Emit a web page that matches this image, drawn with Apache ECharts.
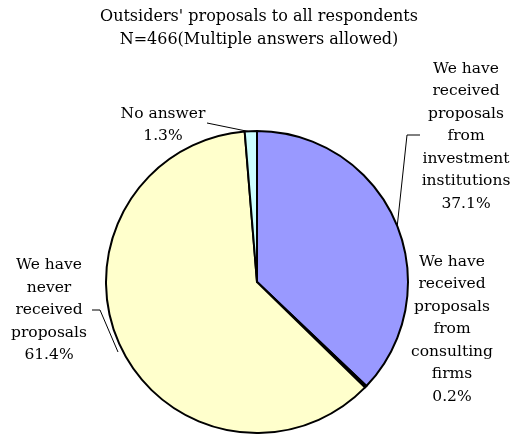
<!DOCTYPE html>
<html>
<head>
	<meta charset="UTF-8">
	<title>Outsiders' proposals</title>
	<script src="https://cdn.jsdelivr.net/npm/echarts@6/dist/echarts.min.js"></script>
	<style>
		html, body { margin: 0; padding: 0; background: #fff; }
		#main { width: 518px; height: 434px; }
	</style>
</head>
<body>
<div id="main"></div>
<script>
	// data
	var names = [
		'We have\nreceived\nproposals\nfrom\ninvestment\ninstitutions',
		'We have\nreceived\nproposals\nfrom\nconsulting\nfirms',
		'We have\nnever\nreceived\nproposals',
		'No answer'
	];
	var values = [37.1, 0.2, 61.4, 1.3];
	var colors = ['#9999FF', '#993366', '#FFFFCC', '#CCFFFF'];

	var font = 'DejaVu Serif';

	// where each label sits (block centre) and its leader line
	var labelSpots = [
		{ x: 466, y: 136, line: [[397, 228], [407, 135], [420, 135]] },
		{ x: 452, y: 329, line: null },
		{ x: 49, y: 310, line: [[118, 352], [100, 310], [92, 310]] },
		{ x: 163, y: 125, line: [[251, 132], [207, 123]] }
	];

	var pieData = [];
	for (var i = 0; i < values.length; i++) {
		pieData.push({
			name: names[i],
			value: values[i],
			itemStyle: { color: colors[i] },
			labelLine: { show: labelSpots[i].line !== null }
		});
	}

	var myChart = echarts.init(document.getElementById('main'));

	var option = {
		backgroundColor: '#fff',
		animation: false,
		title: {
			text: "Outsiders' proposals to all respondents\nN=466(Multiple answers allowed)",
			left: 'center',
			top: 5,
			padding: 0,
			textStyle: {
				fontFamily: font,
				fontSize: 16,
				fontWeight: 'normal',
				color: '#000',
				lineHeight: 23
			}
		},
		series: [{
			type: 'pie',
			center: [257, 282],
			radius: 151,
			startAngle: 90,
			clockwise: true,
			avoidLabelOverlap: false,
			data: pieData,
			itemStyle: {
				borderColor: '#000',
				borderWidth: 2
			},
			label: {
				show: true,
				formatter: '{b}\n{d}%',
				fontFamily: font,
				fontSize: 15.5,
				color: '#000',
				lineHeight: 22.5,
				align: 'center'
			},
			labelLine: {
				show: true,
				lineStyle: { color: '#000', width: 1 }
			},
			labelLayout: function (p) {
				var s = labelSpots[p.dataIndex];
				var res = { x: s.x, y: s.y, align: 'center', verticalAlign: 'middle' };
				if (s.line) res.labelLinePoints = s.line;
				return res;
			},
			emphasis: { disabled: true }
		}]
	};

	myChart.setOption(option);
</script>
</body>
</html>
